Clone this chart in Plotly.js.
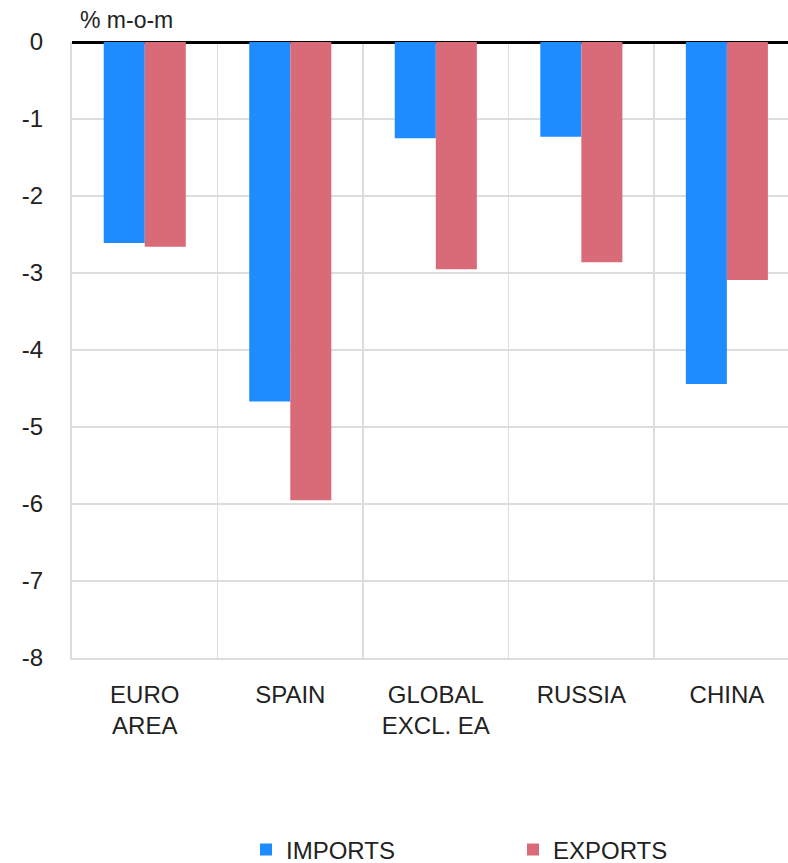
<!DOCTYPE html>
<html>
<head>
<meta charset="utf-8">
<script src="https://cdn.plot.ly/plotly-3.0.1.min.js"></script>
<style>html,body{margin:0;padding:0;background:#fff;}#chart{width:788px;height:863px;}</style>
</head>
<body>
<div id="chart"></div>
<script>
const categories = ["EURO<br>AREA", "SPAIN", "GLOBAL<br>EXCL. EA", "RUSSIA", "CHINA"];
const imports = [-2.61, -4.67, -1.25, -1.23, -4.44];
const exports = [-2.66, -5.95, -2.95, -2.86, -3.09];
const yTicks = [0, -1, -2, -3, -4, -5, -6, -7, -8];

const FONT = "Liberation Sans, Helvetica, Arial, sans-serif";

const data = [
  {type: "bar", name: "IMPORTS", x: categories, y: imports, marker: {color: "#1E8BFF"}},
  {type: "bar", name: "EXPORTS", x: categories, y: exports, marker: {color: "#D96B78"}}
];

const layout = {
  width: 788, height: 863,
  margin: {l: 72, r: 0, t: 42, b: 205},
  paper_bgcolor: "#fff", plot_bgcolor: "#fff",
  font: {family: FONT, size: 24, color: "#222"},
  barmode: "group", bargap: 0.436, bargroupgap: 0,
  showlegend: true,
  legend: {orientation: "h", xref: "container", yref: "container",
           x: 246 / 788, xanchor: "left", y: 13 / 863, yanchor: "middle",
           entrywidth: 222, itemwidth: 30, font: {size: 24, color: "#222"}},
  xaxis: {type: "category", range: [-0.5, 4.42], tickson: "boundaries",
          showgrid: true, gridcolor: "#DDDDDD", gridwidth: 1.5,
          ticks: "", ticklabelstandoff: 14,
          showline: true, linecolor: "#DDDDDD", linewidth: 2, fixedrange: true},
  yaxis: {range: [-8, 0], tickvals: yTicks, ticktext: yTicks.map(String),
          showgrid: true, gridcolor: "#DDDDDD", gridwidth: 1.5,
          zeroline: true, zerolinecolor: "#000", zerolinewidth: 3,
          showline: true, linecolor: "#DDDDDD", linewidth: 2,
          ticks: "", ticklabelstandoff: 22, fixedrange: true},
  annotations: [{text: "% m-o-m", xref: "paper", yref: "paper", x: (78 - 72) / 716, y: 1 + 22 / 616,
                 xanchor: "left", yanchor: "middle", showarrow: false, font: {size: 23, color: "#222"}}]
};

Plotly.newPlot("chart", data, layout, {displayModeBar: false, staticPlot: true});
</script>
</body>
</html>
